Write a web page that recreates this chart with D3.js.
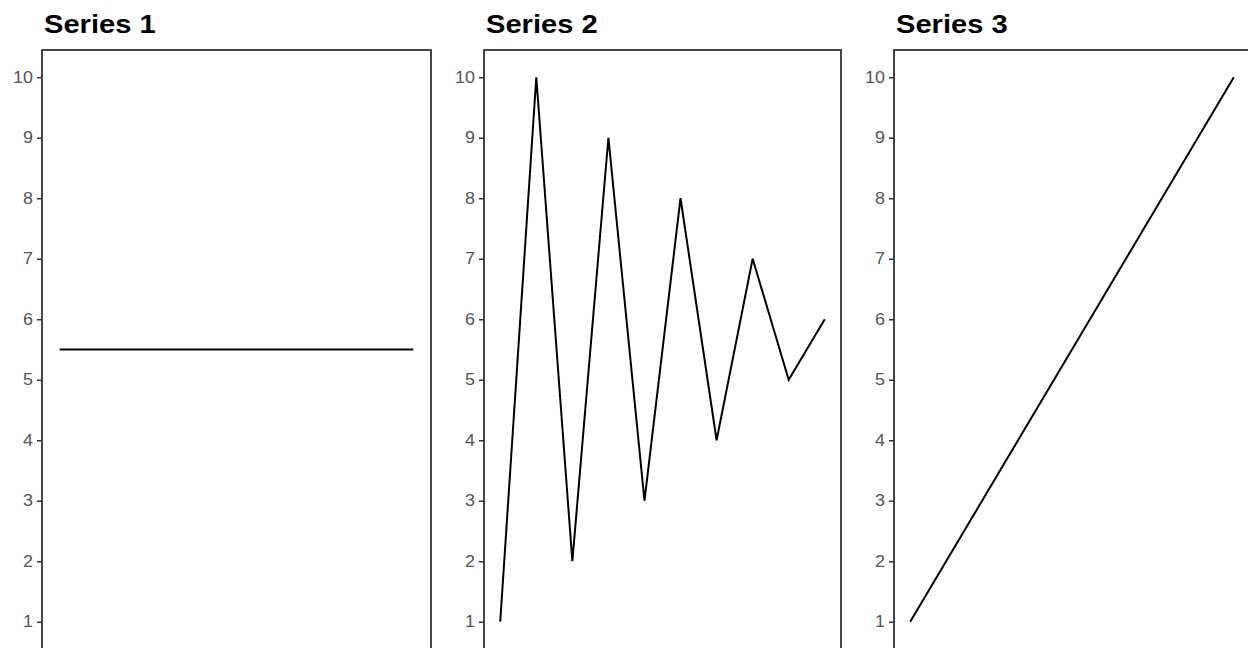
<!DOCTYPE html>
<html><head><meta charset="utf-8">
<script src="https://cdn.jsdelivr.net/npm/d3@7"></script>
<style>body{margin:0;background:#fff}svg{display:block}</style>
</head><body>
<svg id="c" width="1248" height="648"></svg>
<script>
const titles = ["Series 1", "Series 2", "Series 3"];
const xValues = [1,2,3,4,5,6,7,8,9,10];
const series1 = [5.5,5.5,5.5,5.5,5.5,5.5,5.5,5.5,5.5,5.5];
const series2 = [1,10,2,9,3,8,4,7,5,6];
const series3 = [1,2,3,4,5,6,7,8,9,10];
const yTicks = [1,2,3,4,5,6,7,8,9,10];
const allSeries = [series1, series2, series3];

const panels = [{l:42,r:431},{l:484,r:841},{l:894,r:1250}];
const panelTop = 50, panelBottom = 649;
const svg = d3.select("#c");
const sx = 1.12, tsx = 1.12;

allSeries.forEach((vals, i) => {
  const p = panels[i];
  const x = d3.scaleLinear().domain([1 - 0.45, 10 + 0.45]).range([p.l, p.r]);
  const y = d3.scaleLinear().domain([1 - 0.45, 10 + 0.45]).range([panelBottom, panelTop]);
  const g = svg.append("g");
  g.append("path")
    .datum(vals.map((v, k) => [xValues[k], v]))
    .attr("fill", "none").attr("stroke", "#000").attr("stroke-width", 2)
    .attr("d", d3.line().x(d => x(d[0])).y(d => y(d[1])));
  g.append("rect").attr("x", p.l).attr("y", panelTop).attr("width", p.r - p.l).attr("height", panelBottom - panelTop)
    .attr("fill", "none").attr("stroke", "#333").attr("stroke-width", 1.8);
  const ax = g.append("g").attr("transform", `translate(${p.l},0)`)
    .call(d3.axisLeft(y).tickValues(yTicks).tickSize(5).tickPadding(4).tickFormat(d3.format("d")));
  ax.attr("font-size", null).attr("font-family", null);
  ax.select(".domain").remove();
  ax.selectAll(".tick line").attr("stroke", "#333").attr("stroke-width", 1.5);
  ax.selectAll(".tick text")
    .style("fill", "#555").style("font-family", "'Liberation Sans', Arial, sans-serif")
    .style("font-size", "16px")
    .attr("transform", function(){ const xx = +d3.select(this).attr("x"); return `translate(${xx*(1-tsx)},0) scale(${tsx},1)`; });
  svg.append("text").attr("x", 0).attr("y", 0)
    .attr("transform", `translate(${p.l + 2},33) scale(${sx},1)`)
    .style("font-family", "'Liberation Sans', Arial, sans-serif").style("font-weight", "bold")
    .style("font-size", "26px").style("fill", "#000").text(titles[i]);
});
</script>
</body></html>
